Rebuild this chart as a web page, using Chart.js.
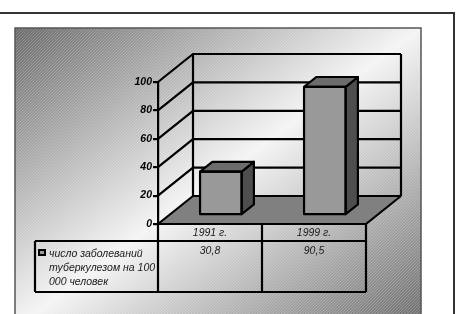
<!DOCTYPE html>
<html><head><meta charset="utf-8">
<script src="https://cdn.jsdelivr.net/npm/chart.js@4"></script>
<style>html,body{margin:0;padding:0;background:#fff}canvas{display:block}</style>
</head><body>
<canvas id="c" width="458" height="314"></canvas>
<script>
const categories = ['1991 г.', '1999 г.'];
const seriesValues = [30.8, 90.5];
const seriesLabelLines = ['число заболеваний', 'туберкулезом на 100', '000 человек'];
const yTickValues = [0, 20, 40, 60, 80, 100];

const DEPTH = {x: 35, y: -28};
const BAR_FRONT = 0.31, BAR_BACK = 0.66;
const FONT = '"Liberation Sans", Arial, sans-serif';
const fmt = v => String(v).replace('.', ',');

const bgPlugin = {
  id: 'bg',
  beforeDraw(chart) {
    const ctx = chart.ctx;
    ctx.save();
    ctx.fillStyle = '#fff';
    ctx.fillRect(0, 0, chart.width, chart.height);
    const px = 15, py = 28, pw = 406, ph = 300;
    const d2 = pw * pw + ph * ph;
    const t = (2 * pw * ph) / d2;
    const g = ctx.createLinearGradient(px, py, px + t * ph, py + t * pw);
    g.addColorStop(0, '#6a6a6a');
    g.addColorStop(0.5, '#f4f4f4');
    g.addColorStop(1, '#6a6a6a');
    ctx.fillStyle = g;
    ctx.fillRect(px, py, pw, ph);
    ctx.save();
    ctx.beginPath(); ctx.rect(px, py, pw, ph); ctx.clip();
    ctx.strokeStyle = 'rgba(255,255,255,0.22)';
    ctx.lineWidth = 1;
    for (let k = -ph; k < pw; k += 3) {
      ctx.beginPath();
      ctx.moveTo(px + k, py + ph);
      ctx.lineTo(px + k + ph, py);
      ctx.stroke();
    }
    ctx.restore();
    ctx.strokeStyle = '#555';
    ctx.lineWidth = 1.5;
    ctx.strokeRect(px, py, pw, ph);
    ctx.strokeStyle = '#333';
    ctx.lineWidth = 2;
    ctx.beginPath();
    ctx.moveTo(0, 13); ctx.lineTo(454, 13); ctx.lineTo(454, 314);
    ctx.stroke();
    ctx.restore();
  }
};

const threeD = {
  id: 'threeD',
  beforeDatasetsDraw(chart) {
    const {ctx, chartArea: a, scales} = chart;
    const x = scales.x, y = scales.y;
    const dx = DEPTH.x, dy = DEPTH.y;
    const y0 = y.getPixelForValue(0), yTop = y.getPixelForValue(100);
    ctx.save();
    ctx.lineWidth = 2.2;
    ctx.strokeStyle = '#000';
    ctx.lineJoin = 'miter';
    // floor
    ctx.fillStyle = '#808080';
    ctx.beginPath();
    ctx.moveTo(a.left, y0); ctx.lineTo(a.right, y0);
    ctx.lineTo(a.right + dx, y0 + dy); ctx.lineTo(a.left + dx, y0 + dy);
    ctx.closePath(); ctx.fill();
    // grid lines on side and back walls
    yTickValues.forEach(v => {
      const yy = y.getPixelForValue(v);
      ctx.beginPath();
      ctx.moveTo(a.left, yy);
      ctx.lineTo(a.left + dx, yy + dy);
      ctx.lineTo(a.right + dx, yy + dy);
      ctx.stroke();
    });
    ctx.beginPath();
    ctx.moveTo(a.left + dx, y0 + dy); ctx.lineTo(a.left + dx, yTop + dy);
    ctx.moveTo(a.right + dx, y0 + dy); ctx.lineTo(a.right + dx, yTop + dy);
    ctx.moveTo(a.right, y0); ctx.lineTo(a.right + dx, y0 + dy);
    ctx.stroke();
    // data table
    const row1 = a.bottom + 17, tb = a.bottom + 68, tl = 35;
    const half = (x.getPixelForValue(1) - x.getPixelForValue(0)) / 2;
    ctx.beginPath();
    ctx.moveTo(a.left, a.bottom); ctx.lineTo(a.right, a.bottom);
    ctx.moveTo(tl, row1); ctx.lineTo(a.right, row1);
    ctx.moveTo(tl, tb); ctx.lineTo(a.right, tb);
    ctx.moveTo(tl, row1); ctx.lineTo(tl, tb);
    ctx.moveTo(a.left, a.bottom); ctx.lineTo(a.left, tb);
    categories.forEach((c, i) => {
      const cx = x.getPixelForValue(i) + half;
      ctx.moveTo(cx, a.bottom); ctx.lineTo(cx, tb);
    });
    ctx.stroke();
    ctx.fillStyle = '#1a1a1a';
    ctx.font = 'italic 10.5px ' + FONT;
    ctx.textAlign = 'center';
    ctx.textBaseline = 'middle';
    categories.forEach((c, i) => {
      const cx = x.getPixelForValue(i);
      ctx.fillText(c, cx, a.bottom + 9);
      ctx.fillText(fmt(seriesValues[i]), cx, row1 + 10);
    });
    // legend key
    ctx.fillStyle = '#000';
    ctx.fillRect(38, row1 + 8, 8, 7);
    ctx.fillStyle = '#999';
    ctx.fillRect(40, row1 + 10, 4, 3);
    ctx.fillStyle = '#1a1a1a';
    ctx.textAlign = 'left';
    seriesLabelLines.forEach((s, i) => ctx.fillText(s, 49, row1 + 13 + i * 14));
    ctx.restore();
    ctx.save();
    ctx.translate(dx * BAR_FRONT, dy * BAR_FRONT);
  },
  afterDatasetsDraw(chart) {
    const ctx = chart.ctx;
    ctx.restore();
    const ox = DEPTH.x * BAR_FRONT, oy = DEPTH.y * BAR_FRONT;
    const bx = DEPTH.x * (BAR_BACK - BAR_FRONT), by = DEPTH.y * (BAR_BACK - BAR_FRONT);
    ctx.save();
    ctx.lineWidth = 2.2;
    ctx.strokeStyle = '#000';
    ctx.lineJoin = 'round';
    chart.getDatasetMeta(0).data.forEach(bar => {
      const p = bar.getProps(['x', 'y', 'base', 'width'], true);
      const l = p.x - p.width / 2 + ox, r = p.x + p.width / 2 + ox;
      const t = p.y + oy, b = p.base + oy;
      ctx.fillStyle = '#4e4e4e';
      ctx.beginPath();
      ctx.moveTo(r, t); ctx.lineTo(r + bx, t + by); ctx.lineTo(r + bx, b + by); ctx.lineTo(r, b);
      ctx.closePath(); ctx.fill(); ctx.stroke();
      ctx.fillStyle = '#6c6c6c';
      ctx.beginPath();
      ctx.moveTo(l, t); ctx.lineTo(l + bx, t + by); ctx.lineTo(r + bx, t + by); ctx.lineTo(r, t);
      ctx.closePath(); ctx.fill(); ctx.stroke();
      ctx.strokeRect(l, t, r - l, b - t);
    });
    ctx.restore();
  }
};

new Chart(document.getElementById('c'), {
  type: 'bar',
  data: {
    labels: categories,
    datasets: [{
      data: seriesValues,
      backgroundColor: '#999999',
      borderWidth: 0,
      categoryPercentage: 1,
      barPercentage: 0.4,
      clip: false
    }]
  },
  options: {
    responsive: false,
    animation: false,
    devicePixelRatio: 1,
    layout: {padding: {left: 20, top: 82, right: 92, bottom: 90}},
    plugins: {legend: {display: false}, tooltip: {enabled: false}},
    scales: {
      x: {display: false},
      y: {
        min: 0, max: 100,
        afterFit: s => { s.width = 138; },
        ticks: {
          stepSize: 20, padding: 1, color: '#000',
          font: {family: FONT, size: 10.5, style: 'italic', weight: 'bold'}
        },
        grid: {drawOnChartArea: false, drawTicks: true, tickLength: 5, color: '#000', lineWidth: 2.2},
        border: {display: true, color: '#000', width: 2.2}
      }
    }
  },
  plugins: [bgPlugin, threeD]
});
</script>
</body></html>
